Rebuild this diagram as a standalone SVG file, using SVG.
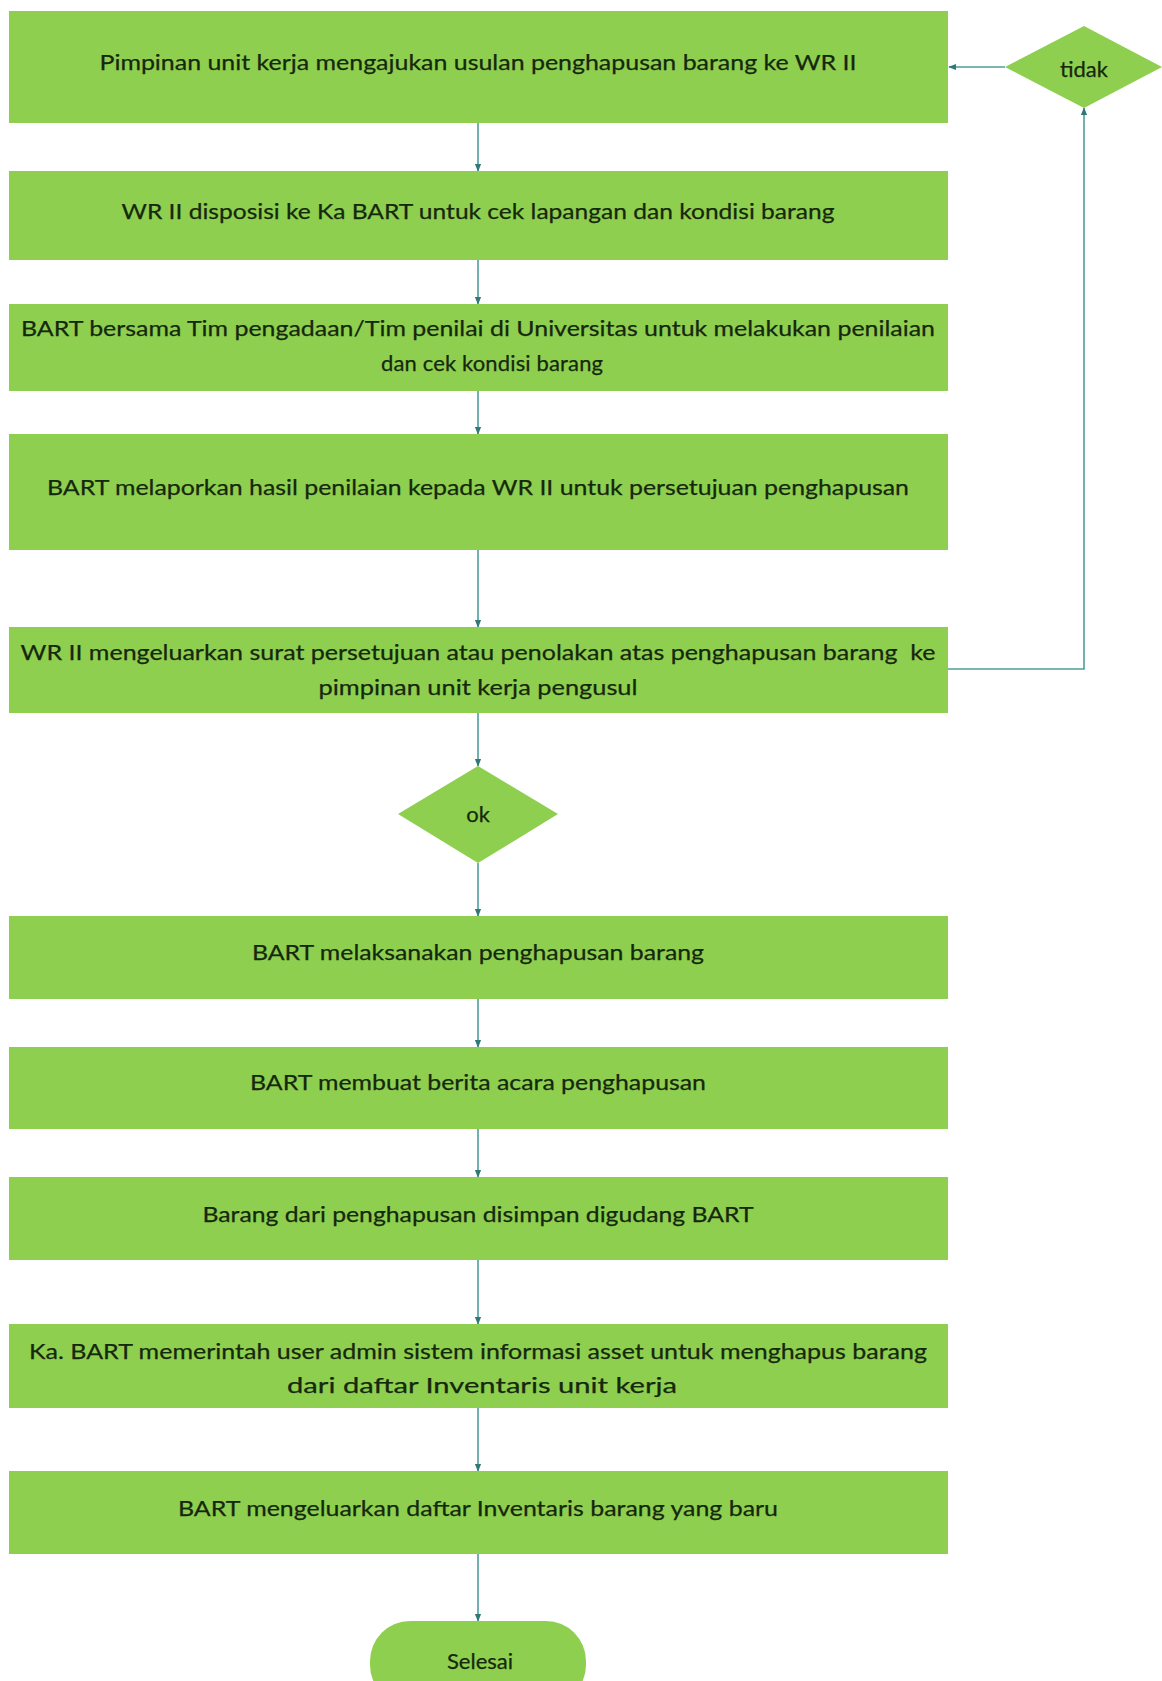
<svg xmlns="http://www.w3.org/2000/svg" width="1162" height="1681" viewBox="0 0 1162 1681">
  <style>
    .box { fill: #8fcf4f; }
    .lbl { font-family: Lato, "Open Sans", "Liberation Sans", sans-serif; font-size: 22px; fill: #15280d; text-anchor: middle; dominant-baseline: central; stroke: #15280d; stroke-width: 0.25; }
    .wire { fill: none; stroke: #4f9e9c; stroke-width: 1.6; }
  </style>
  <defs>
    <marker id="arr" viewBox="0 0 10 10" refX="9" refY="5" markerWidth="5" markerHeight="5" orient="auto">
      <path d="M0,1 L10,5 L0,9 z" fill="#2f7a78"/>
    </marker>
  </defs>
  <rect width="1162" height="1681" fill="#ffffff"/>

  <!-- connectors -->
  <g id="connectors">
    <line class="wire" x1="478" y1="123" x2="478" y2="171" marker-end="url(#arr)"/>
    <line class="wire" x1="478" y1="260" x2="478" y2="304" marker-end="url(#arr)"/>
    <line class="wire" x1="478" y1="391" x2="478" y2="434" marker-end="url(#arr)"/>
    <line class="wire" x1="478" y1="550" x2="478" y2="627" marker-end="url(#arr)"/>
    <line class="wire" x1="478" y1="713" x2="478" y2="766" marker-end="url(#arr)"/>
    <line class="wire" x1="478" y1="863" x2="478" y2="916" marker-end="url(#arr)"/>
    <line class="wire" x1="478" y1="999" x2="478" y2="1047" marker-end="url(#arr)"/>
    <line class="wire" x1="478" y1="1129" x2="478" y2="1177" marker-end="url(#arr)"/>
    <line class="wire" x1="478" y1="1260" x2="478" y2="1324" marker-end="url(#arr)"/>
    <line class="wire" x1="478" y1="1408" x2="478" y2="1471" marker-end="url(#arr)"/>
    <line class="wire" x1="478" y1="1554" x2="478" y2="1621" marker-end="url(#arr)"/>
    <!-- rejection loop back to the first step -->
    <polyline class="wire" points="948,669 1084,669 1084,108" marker-end="url(#arr)"/>
    <line class="wire" x1="1005" y1="67" x2="949" y2="67" marker-end="url(#arr)"/>
  </g>

  <g id="step1">
    <rect class="box" x="9" y="11" width="939" height="112"/>
    <text class="lbl" x="478" y="61" textLength="757" lengthAdjust="spacingAndGlyphs">Pimpinan unit kerja mengajukan usulan penghapusan barang ke WR II</text>
  </g>
  <g id="decision-tidak">
    <polygon class="box" points="1084,26 1162,67 1084,108 1005,67"/>
    <text class="lbl" x="1084" y="68">tidak</text>
  </g>
  <g id="step2">
    <rect class="box" x="9" y="171" width="939" height="89"/>
    <text class="lbl" x="478" y="210" textLength="713" lengthAdjust="spacingAndGlyphs">WR II disposisi ke Ka BART untuk cek lapangan dan kondisi barang</text>
  </g>
  <g id="step3">
    <rect class="box" x="9" y="304" width="939" height="87"/>
    <text class="lbl" x="478" y="327" textLength="914" lengthAdjust="spacingAndGlyphs">BART bersama Tim pengadaan/Tim penilai di Universitas untuk melakukan penilaian</text>
    <text class="lbl" x="492" y="362" textLength="222" lengthAdjust="spacing">dan cek kondisi barang</text>
  </g>
  <g id="step4">
    <rect class="box" x="9" y="434" width="939" height="116"/>
    <text class="lbl" x="478" y="486" textLength="862" lengthAdjust="spacingAndGlyphs">BART melaporkan hasil penilaian kepada WR II untuk persetujuan penghapusan</text>
  </g>
  <g id="step5">
    <rect class="box" x="9" y="627" width="939" height="86"/>
    <text class="lbl" x="478" y="651" textLength="915" lengthAdjust="spacingAndGlyphs" style="white-space:pre">WR II mengeluarkan surat persetujuan atau penolakan atas penghapusan barang  ke</text>
    <text class="lbl" x="478" y="686" textLength="319" lengthAdjust="spacingAndGlyphs">pimpinan unit kerja pengusul</text>
  </g>
  <g id="decision-ok">
    <polygon class="box" points="478,766 558,814 478,863 398,814"/>
    <text class="lbl" x="478" y="813">ok</text>
  </g>
  <g id="step6">
    <rect class="box" x="9" y="916" width="939" height="83"/>
    <text class="lbl" x="478" y="951" textLength="452" lengthAdjust="spacingAndGlyphs">BART melaksanakan penghapusan barang</text>
  </g>
  <g id="step7">
    <rect class="box" x="9" y="1047" width="939" height="82"/>
    <text class="lbl" x="478" y="1081" textLength="456" lengthAdjust="spacingAndGlyphs">BART membuat berita acara penghapusan</text>
  </g>
  <g id="step8">
    <rect class="box" x="9" y="1177" width="939" height="83"/>
    <text class="lbl" x="478" y="1213" textLength="551" lengthAdjust="spacingAndGlyphs">Barang dari penghapusan disimpan digudang BART</text>
  </g>
  <g id="step9">
    <rect class="box" x="9" y="1324" width="939" height="84"/>
    <text class="lbl" x="478" y="1350" textLength="898" lengthAdjust="spacingAndGlyphs">Ka. BART memerintah user admin sistem informasi asset untuk menghapus barang</text>
    <text class="lbl" x="482" y="1384" textLength="390" lengthAdjust="spacingAndGlyphs">dari daftar Inventaris unit kerja</text>
  </g>
  <g id="step10">
    <rect class="box" x="9" y="1471" width="939" height="83"/>
    <text class="lbl" x="478" y="1507" textLength="600" lengthAdjust="spacingAndGlyphs">BART mengeluarkan daftar Inventaris barang yang baru</text>
  </g>
  <g id="end">
    <rect class="box" x="370" y="1621" width="216" height="84" rx="40" ry="40"/>
    <text class="lbl" x="480" y="1660">Selesai</text>
  </g>
</svg>
